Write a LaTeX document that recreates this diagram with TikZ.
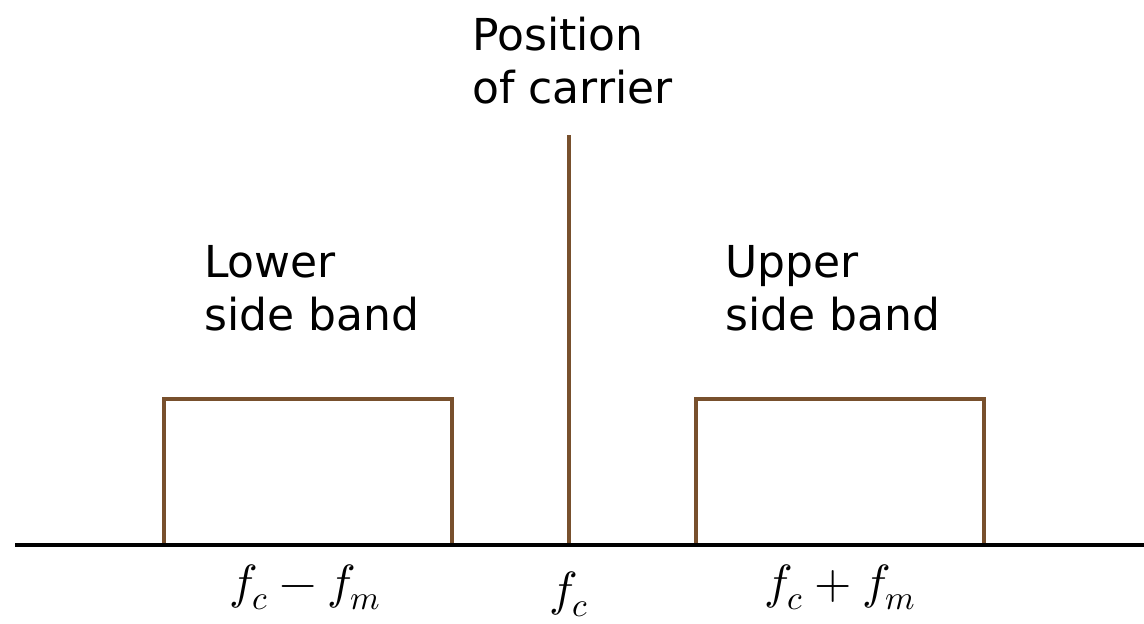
\documentclass[tikz,border=0pt]{standalone}
\usepackage{fontspec}
\setmainfont{DejaVu Sans}
\usepackage{unicode-math}
\setmathfont{Latin Modern Math}
\definecolor{bandbrown}{RGB}{120,80,45}
\begin{document}
\begin{tikzpicture}[x=1pt,y=-1pt,
  band/.style={draw=bandbrown, line width=4pt, minimum width=288pt, minimum height=146pt, inner sep=0pt},
  lbl/.style={font=\fontsize{44}{53}\selectfont, align=left, inner sep=0pt, anchor=base west},
  freq/.style={font=\fontsize{48}{56}\selectfont, inner sep=0pt, anchor=base}]
\useasboundingbox (0,0) rectangle (1144,624);
\coordinate (axL) at (15,545);
\coordinate (axR) at (1144,545);
\coordinate (cTop) at (569,135);
\coordinate (cBot) at (569,545);
\node[band] (lsb) at (307.5,471.5) {};
\node[band] (usb) at (840,471.5) {};
\draw[bandbrown, line width=4pt] (cTop) -- (cBot);
\draw[black, line width=3.5pt] (axL) -- (axR);
\node[lbl] (pos) at (472,103) {Position\\of carrier};
\node[lbl] (low) at (204,330) {Lower\\side band};
\node[lbl] (up) at (725,330) {Upper\\side band};
\node[freq] (f1) at (305,598) {$f_c - f_m$};
\node[freq] (f2) at (569,605) {$f_c$};
\node[freq] (f3) at (840,598) {$f_c + f_m$};
\end{tikzpicture}
\end{document}
